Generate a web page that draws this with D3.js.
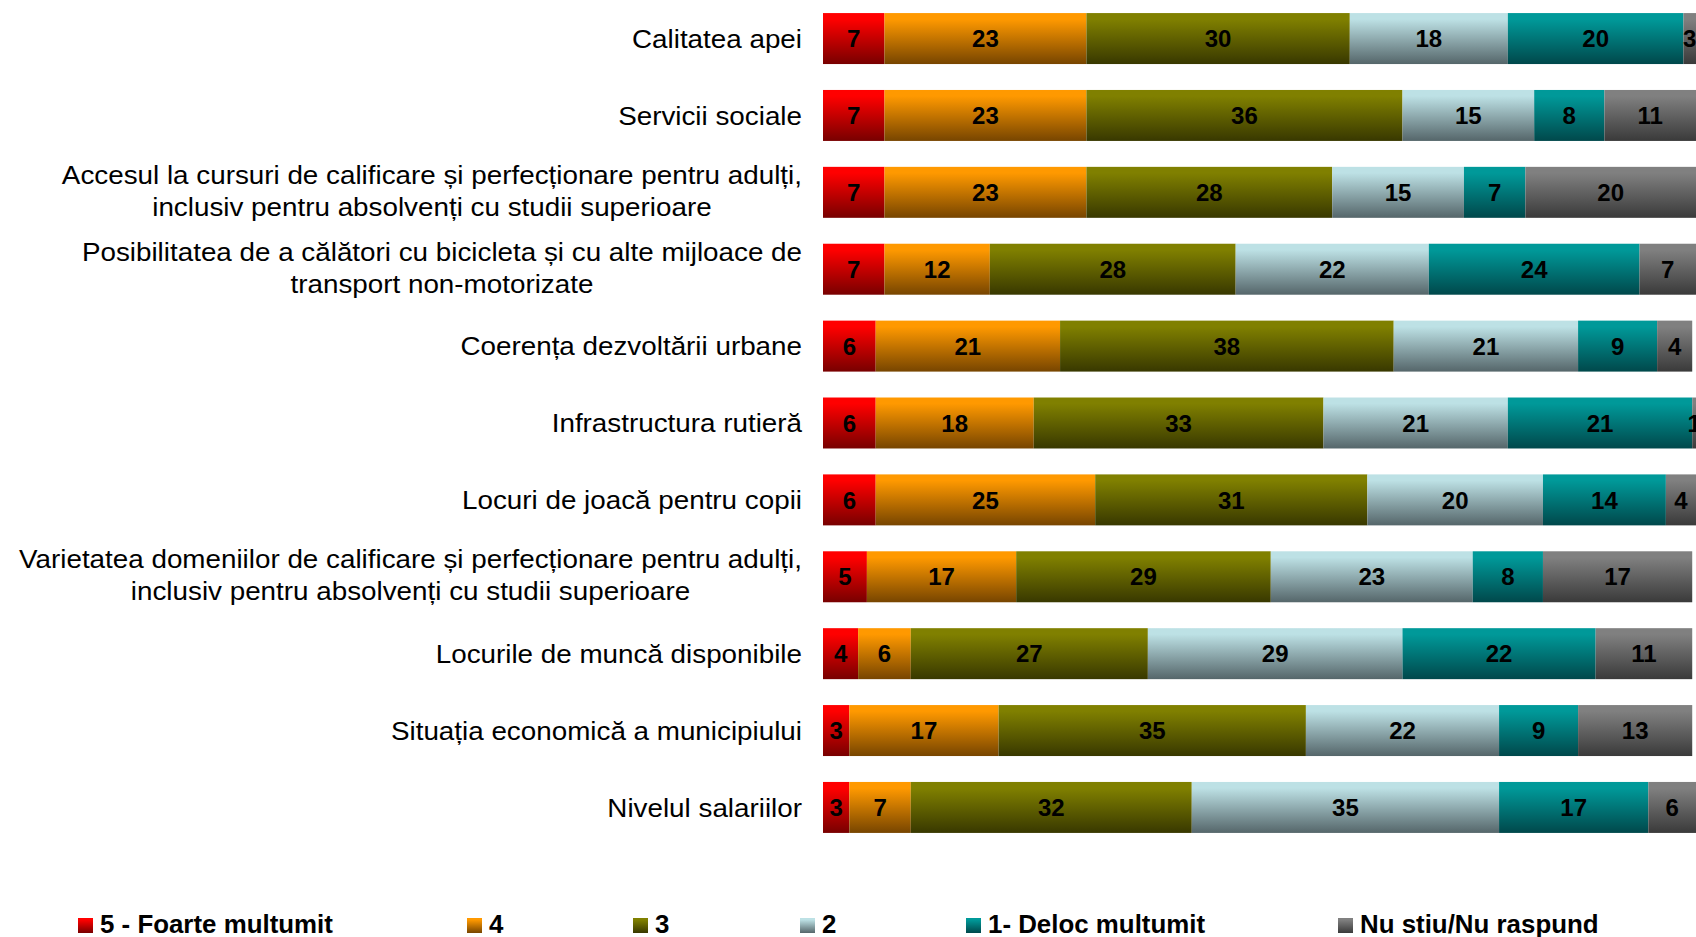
<!DOCTYPE html>
<html>
<head>
<meta charset="utf-8">
<script src="https://cdn.jsdelivr.net/npm/d3@7/dist/d3.min.js"></script>
<style>
  html, body { margin: 0; padding: 0; background: #fff; overflow: hidden; }
  svg { display: block; }
  text { font-family: Arial, "Liberation Sans", sans-serif; }
</style>
</head>
<body>
<svg id="chart" width="1696" height="937"></svg>
<script>
// Satisfaction ratings per service area (% of respondents)
const categories = [
  "Calitatea apei",
  "Servicii sociale",
  "Accesul la cursuri de calificare și perfecționare pentru adulți,\ninclusiv pentru absolvenți cu studii superioare",
  "Posibilitatea de a călători cu bicicleta și cu alte mijloace de\ntransport non-motorizate",
  "Coerența dezvoltării urbane",
  "Infrastructura rutieră",
  "Locuri de joacă pentru copii",
  "Varietatea domeniilor de calificare și perfecționare pentru adulți,\ninclusiv pentru absolvenți cu studii superioare",
  "Locurile de muncă disponibile",
  "Situația economică a municipiului",
  "Nivelul salariilor"
];

const seriesNames = [
  "5 - Foarte multumit",
  "4",
  "3",
  "2",
  "1- Deloc multumit",
  "Nu stiu/Nu raspund"
];

const foarteMultumit = [7, 7, 7, 7, 6, 6, 6, 5, 4, 3, 3];
const nota4          = [23, 23, 23, 12, 21, 18, 25, 17, 6, 17, 7];
const nota3          = [30, 36, 28, 28, 38, 33, 31, 29, 27, 35, 32];
const nota2          = [18, 15, 15, 22, 21, 21, 20, 23, 29, 22, 35];
const delocMultumit  = [20, 8, 7, 24, 9, 21, 14, 8, 22, 9, 17];
const nuStiu         = [3, 11, 20, 7, 4, 1, 4, 17, 11, 13, 6];

const seriesValues = [foarteMultumit, nota4, nota3, nota2, delocMultumit, nuStiu];

// gradient top / bottom colours per series
const topColors    = ["#FF0000", "#FF9900", "#808000", "#BDE1E5", "#009999", "#808080"];
const bottomColors = ["#780000", "#774500", "#383800", "#55666A", "#00484B", "#3A3A3A"];

const W = 1696, H = 937;
const svg = d3.select("#chart");

const rows = categories.map((c, i) => {
  const r = { category: c };
  seriesNames.forEach((s, j) => { r[s] = seriesValues[j][i]; });
  return r;
});

const stacked = d3.stack().keys(seriesNames)(rows);

const x = d3.scaleLinear().domain([0, 100]).range([823, 1701]);
const y = d3.scaleBand().domain(categories).range([0, 846])
  .paddingInner(0.337).paddingOuter(0.17);

// vertical gradients
const defs = svg.append("defs");
seriesNames.forEach((s, j) => {
  const g = defs.append("linearGradient")
    .attr("id", "grad" + j)
    .attr("x1", 0).attr("y1", 0).attr("x2", 0).attr("y2", 1);
  g.append("stop").attr("offset", "0.12").attr("stop-color", topColors[j]);
  g.append("stop").attr("offset", "1").attr("stop-color", bottomColors[j]);
});

// bars
const layers = svg.append("g").selectAll("g")
  .data(stacked).join("g")
  .attr("fill", (d, j) => `url(#grad${j})`);

layers.selectAll("rect")
  .data(d => d.map(v => ({ v, cat: v.data.category })))
  .join("rect")
  .attr("x", d => x(d.v[0]))
  .attr("y", d => y(d.cat))
  .attr("width", d => x(d.v[1]) - x(d.v[0]))
  .attr("height", y.bandwidth());

// value labels, centred in the visible part of each segment
const valueLabels = svg.append("g")
  .attr("font-size", 24).attr("font-weight", "bold")
  .attr("text-anchor", "middle").attr("fill", "#000");

stacked.forEach((layer, j) => {
  layer.forEach(v => {
    const val = v[1] - v[0];
    const x0 = x(v[0]), x1 = Math.min(x(v[1]), W);
    valueLabels.append("text")
      .attr("x", (x0 + x1) / 2)
      .attr("y", y(v.data.category) + y.bandwidth() / 2)
      .attr("dy", "0.36em")
      .text(val);
  });
});

// category labels (slightly widened glyphs), right-aligned against the bars
const catLabels = svg.append("g")
  .attr("transform", "translate(802,0) scale(1.07,1)")
  .attr("font-size", 26).attr("fill", "#000").attr("text-anchor", "end");

categories.forEach(c => {
  const lines = c.split("\n");
  const cy = y(c) + y.bandwidth() / 2;
  const t = catLabels.append("text");
  if (lines.length === 1) {
    t.append("tspan").attr("x", 0).attr("y", cy).attr("dy", "0.36em").text(lines[0]);
  } else {
    // second line is centred under the first
    const first = t.append("tspan").attr("x", 0).attr("y", cy - 18).attr("dy", "0.36em").text(lines[0]);
    const w = first.node().getComputedTextLength();
    t.append("tspan").attr("x", -w / 2).attr("y", cy + 14).attr("dy", "0.36em")
      .attr("text-anchor", "middle").text(lines[1]);
  }
});

// legend
const legendX = [78, 467, 633, 800, 966, 1338];
const legend = svg.append("g");
seriesNames.forEach((s, j) => {
  legend.append("rect")
    .attr("x", legendX[j]).attr("y", 918)
    .attr("width", 15).attr("height", 15)
    .attr("fill", `url(#grad${j})`);
  legend.append("text")
    .attr("transform", `translate(${legendX[j] + 22},933) scale(1.035,1)`)
    .attr("font-size", 25).attr("font-weight", "bold").attr("fill", "#000")
    .text(s);
});
</script>
</body>
</html>
